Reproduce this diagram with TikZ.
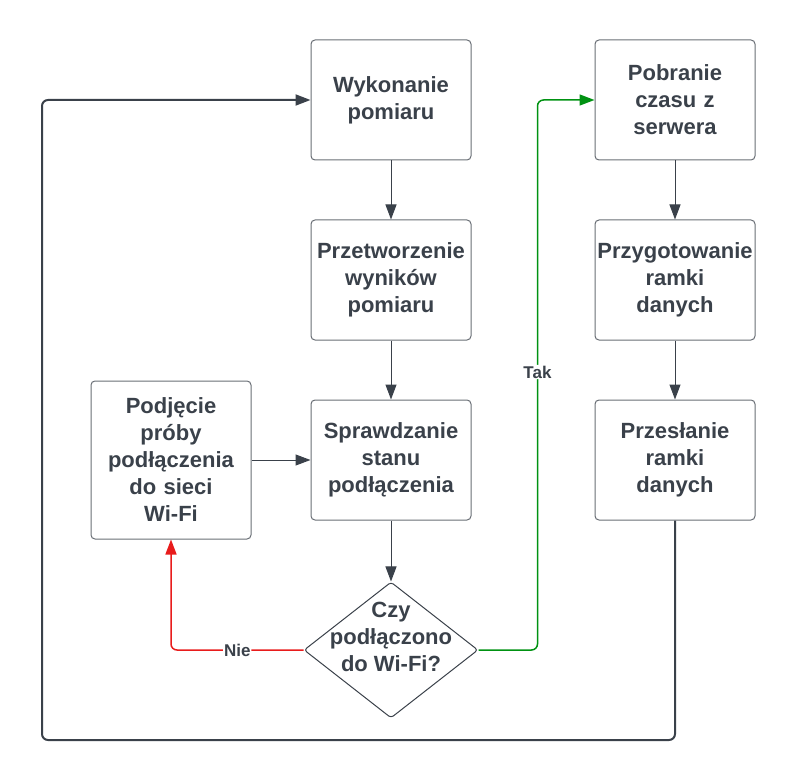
\documentclass[tikz,border=0pt]{standalone}
\usepackage{fontspec}
\setmainfont{Liberation Sans}
\usetikzlibrary{arrows.meta,shapes.geometric}
\definecolor{ink}{RGB}{58,65,74}
\definecolor{edge}{RGB}{105,110,117}
\definecolor{nored}{RGB}{232,28,28}
\definecolor{yesgreen}{RGB}{0,146,18}

\begin{document}
\begin{tikzpicture}[x=1pt,y=-1pt,
 stepbox/.style ={draw=edge,line width=1pt,rounded corners=4pt,minimum width=160pt,minimum height=120pt,
   text width=158pt,inner sep=1pt,align=center,text=ink,font=\fontsize{22}{27}\selectfont\bfseries},
 decision/.style ={diamond,draw=ink,line width=1pt,rounded corners=3pt,minimum width=174pt,minimum height=136pt,inner sep=0pt},
 flow/.style ={draw=ink,line width=1pt,rounded corners=6pt,-{Triangle[length=15pt,width=11pt]}},
 loop/.style ={flow,line width=2pt},
 tag/.style ={fill=white,text=ink,inner sep=1pt,font=\fontsize{17}{20}\selectfont\bfseries}
 ]
\useasboundingbox (0,0) rectangle (796,781);
%draw left column
\node[stepbox] (measure) at (391,100) {Wykonanie\\pomiaru};
\node[stepbox] (process) at (391,280) {Przetworzenie\\wyników\\pomiaru};
\node[stepbox] (status) at (391,460) {Sprawdzanie\\stanu\\podłączenia};
\node[stepbox,minimum height=158pt] (retry) at (171,460) {Podjęcie\\próby\\podłączenia\\do sieci\\Wi-Fi};
%draw decision
\node[decision,label={[text=ink,align=center,yshift=13pt,font=\fontsize{22}{27}\selectfont\bfseries]center:{Czy\\podłączono\\do Wi-Fi?}}] (check) at (391,650) {};
%draw right column
\node[stepbox] (fetch) at (675,100) {Pobranie\\czasu z\\serwera};
\node[stepbox] (frame) at (675,280) {Przygotowanie\\ramki\\danych};
\node[stepbox] (send) at (675,460) {Przesłanie\\ramki\\danych};
\coordinate (corner) at (42,740);
%draw straight connectors
\draw[flow] (measure) -- (process);
\draw[flow] (process) -- (status);
\draw[flow] (retry) -- (status);
\draw[flow] (status) -- (check);
\draw[flow] (fetch) -- (frame);
\draw[flow] (frame) -- (send);
%draw answers
\draw[flow,draw=nored,line width=1.5pt,-{Triangle[length=15pt,width=11pt,fill=nored]}] (check.west) -| node[tag,pos=0.25] {Nie} (retry.south);
\draw[flow,draw=yesgreen,line width=1.5pt,-{Triangle[length=15pt,width=11pt,fill=yesgreen]}] (check.east) -- ++(59,0) |- node[tag,pos=0.25,yshift=3pt] {Tak} (fetch.west);
%draw loop back
\draw[loop] (send.south) |- (corner) |- (measure.west);
\end{tikzpicture}
\end{document}
